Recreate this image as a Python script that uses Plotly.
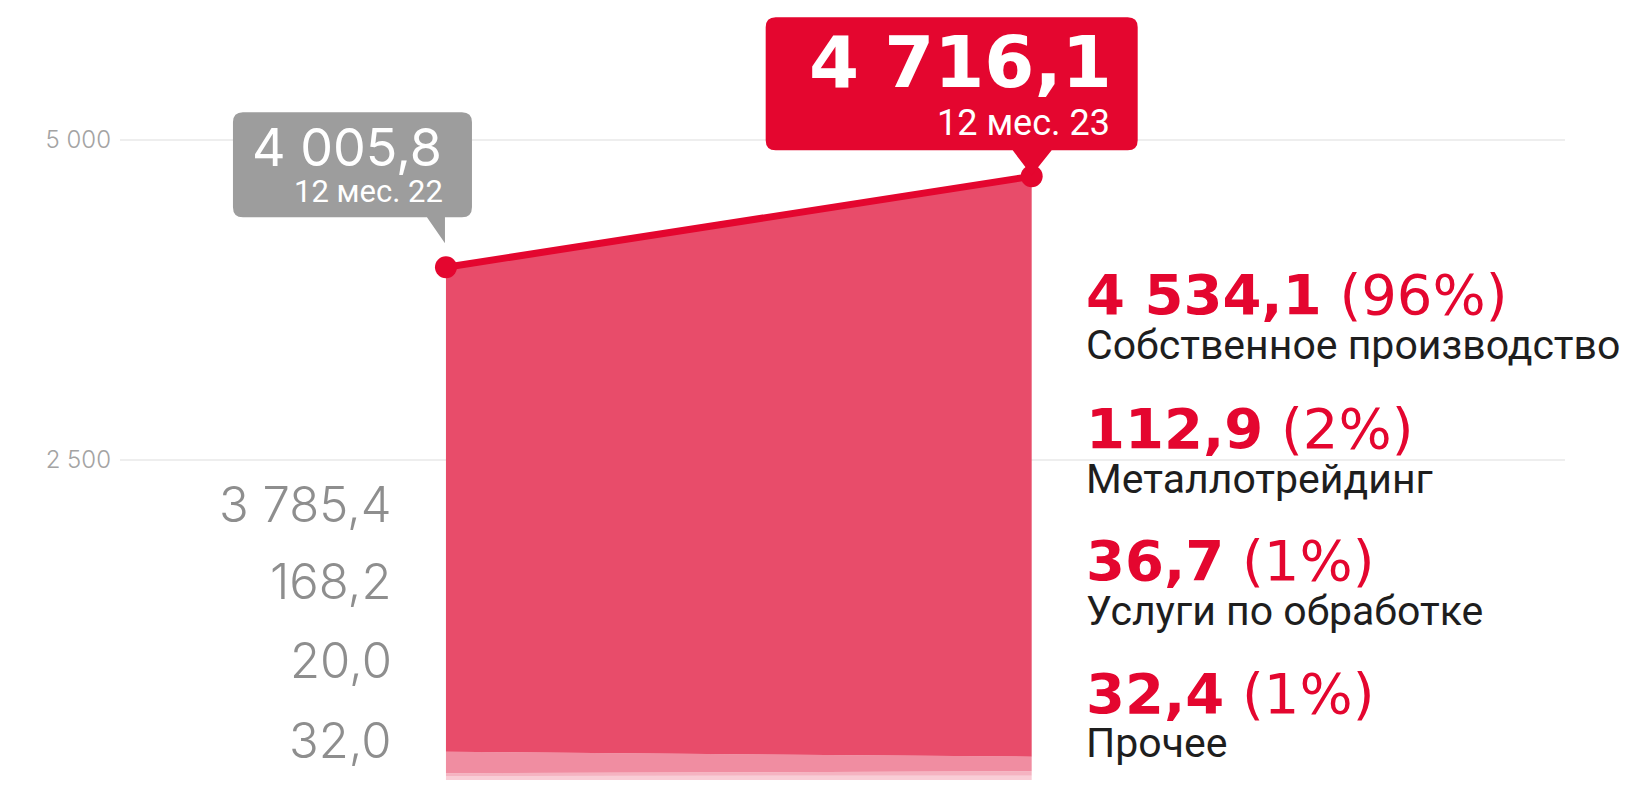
import plotly.graph_objects as go

# ---------------- data ----------------
periods = ["12 мес. 22", "12 мес. 23"]
totals = [4005.8, 4716.1]
segments = ["Собственное производство", "Металлотрейдинг", "Услуги по обработке", "Прочее"]
seg_2022 = [3785.4, 168.2, 20.0, 32.0]
seg_2023 = [4534.1, 112.9, 36.7, 32.4]
shares_2023 = [96, 2, 1, 1]
tick_vals = [0, 2500, 5000]
tick_text = ["0", "2 500", "5 000"]

seg_colors = ["#E84C6A", "#F08DA1", "#F5B3C1", "#F9CDD6"]
RED = "#E4062F"
GRAY_BOX = "#9D9D9D"


def fmt(v):
    return f"{v:,.1f}".replace(",", " ").replace(".", ",")


W, H = 1635, 787
L, R, T, B = 120, 70, 10, 7
px_per_unit = 0.128
y_top = (H - T - B) / px_per_unit
x_rng = [-0.5565, 1.9105]

xs = [0, 1]
fig = go.Figure()

# stacked areas (bottom -> top)
for idx in [3, 2, 1, 0]:
    fig.add_trace(go.Scatter(
        x=xs, y=[seg_2022[idx], seg_2023[idx]],
        stackgroup="s", mode="none",
        fillcolor=seg_colors[idx], line=dict(width=0),
        name=segments[idx], hoverinfo="skip",
    ))

# total line
fig.add_trace(go.Scatter(
    x=xs, y=totals, mode="lines+markers",
    line=dict(color=RED, width=7),
    marker=dict(color=RED, size=22),
    cliponaxis=False, hoverinfo="skip",
))


def bubble(x0, x1, y0, y1, r, ptr):
    # y positive = up (pixel sizemode); ptr = points on the bottom edge
    p = f"M {x0+r},{y1} L {x1-r},{y1} Q {x1},{y1} {x1},{y1-r} "
    p += f"L {x1},{y0+r} Q {x1},{y0} {x1-r},{y0} "
    (ax, ay), (tx, ty), (bx, by) = ptr
    p += f"L {bx},{by} L {tx},{ty} L {ax},{ay} "
    p += f"L {x0+r},{y0} Q {x0},{y0} {x0},{y0+r} L {x0},{y1-r} Q {x0},{y1} {x0+r},{y1} Z"
    return p


shapes = [
    dict(type="path", xref="x", yref="y", xsizemode="pixel", ysizemode="pixel",
         xanchor=0, yanchor=totals[0],
         path=bubble(-213, 26, 50, 155, 10, [(-19, 50), (-1, 24), (-1, 50)]),
         fillcolor=GRAY_BOX, line=dict(width=0), layer="above"),
    dict(type="path", xref="x", yref="y", xsizemode="pixel", ysizemode="pixel",
         xanchor=1, yanchor=totals[1],
         path=bubble(-266, 106, 26, 159, 10, [(-19, 26), (0, 1), (20, 26)]),
         fillcolor=RED, line=dict(width=0), layer="above"),
]

ann = []
# callout texts
ann.append(dict(x=0, y=totals[0], xref="x", yref="y", text=fmt(totals[0]),
                xanchor="right", yanchor="middle", xshift=-2, yshift=120, showarrow=False,
                font=dict(family="Inter", size=52, color="white", weight=400)))
ann.append(dict(x=0, y=totals[0], xref="x", yref="y", text=periods[0],
                xanchor="right", yanchor="middle", xshift=-1, yshift=76, showarrow=False,
                font=dict(family="Roboto", size=31, color="white")))
ann.append(dict(x=1, y=totals[1], xref="x", yref="y", text=f"<b>{fmt(totals[1])}</b>",
                xanchor="right", yanchor="middle", xshift=82, yshift=114, showarrow=False,
                font=dict(family="DejaVu Sans", size=72, color="white")))
ann.append(dict(x=1, y=totals[1], xref="x", yref="y", text=periods[1],
                xanchor="right", yanchor="middle", xshift=80, yshift=53, showarrow=False,
                font=dict(family="Roboto", size=36, color="white")))

# left labels (2022 breakdown)
left_py = [505, 581, 660, 740]
for v, py in zip(seg_2022, left_py):
    ann.append(dict(x=0, y=(H - B - py) / (H - T - B), xref="x", yref="paper",
                    text=fmt(v), xanchor="right", yanchor="middle", xshift=-52,
                    showarrow=False,
                    font=dict(family="Inter", size=49, color="#8E8E8E", weight=300)))

# right labels (2023 breakdown)
val_py = [295, 428, 560, 693]
cat_py = [345, 479, 611, 743]
for v, s, name, vp, cp in zip(seg_2023, shares_2023, segments, val_py, cat_py):
    ann.append(dict(x=1, y=(H - B - vp) / (H - T - B), xref="x", yref="paper",
                    text=f"<b>{fmt(v)}</b> ({s}%)", xanchor="left", yanchor="middle",
                    xshift=52, showarrow=False,
                    font=dict(family="DejaVu Sans", size=56, color=RED)))
    ann.append(dict(x=1, y=(H - B - cp) / (H - T - B), xref="x", yref="paper",
                    text=name, xanchor="left", yanchor="middle",
                    xshift=52, showarrow=False,
                    font=dict(family="Roboto", size=41, color="#1E1E1E")))

fig.update_layout(
    width=W, height=H, margin=dict(l=L, r=R, t=T, b=B),
    paper_bgcolor="white", plot_bgcolor="white",
    showlegend=False, hovermode=False,
    shapes=shapes, annotations=ann,
    xaxis=dict(range=x_rng, visible=False, fixedrange=True),
    yaxis=dict(range=[0, y_top], tickvals=tick_vals, ticktext=tick_text,
               showgrid=True, gridcolor="#EEEEEE", gridwidth=2, zeroline=False,
               showline=False, ticks="", ticklabelstandoff=8,
               tickfont=dict(family="Inter", size=24, color="#A3A3A3", weight=300),
               fixedrange=True),
)

fig.write_html("out.html", post_script="document.body.style.margin='0';",
               config={"displayModeBar": False})
